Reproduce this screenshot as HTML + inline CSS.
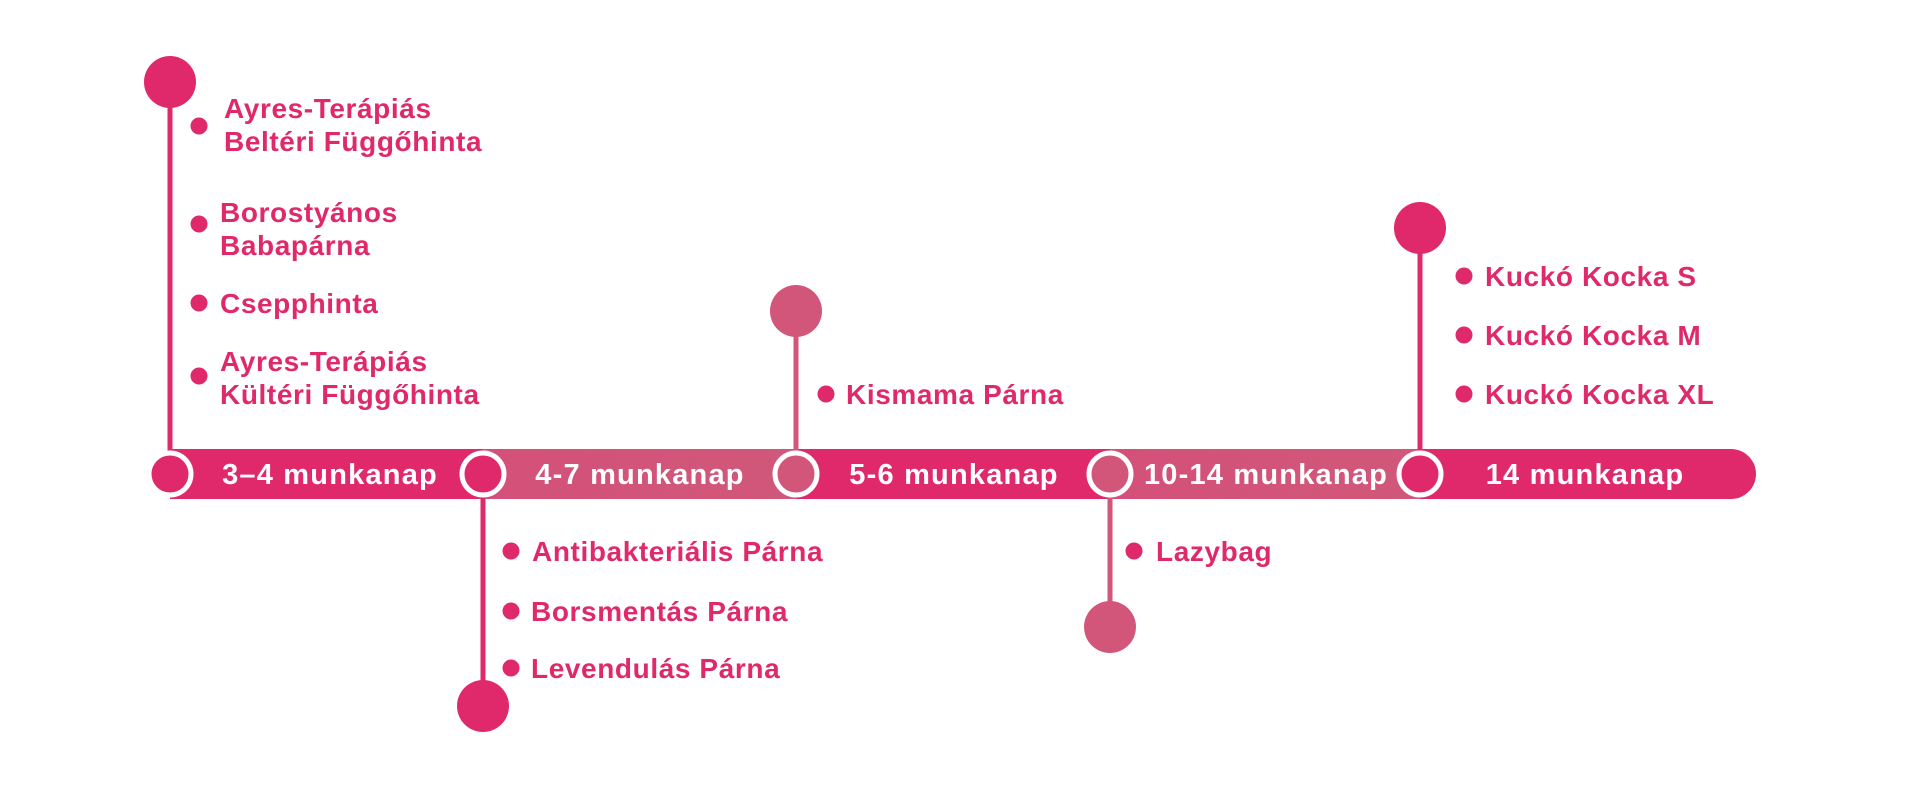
<!DOCTYPE html>
<html><head><meta charset="utf-8"><style>
html,body{margin:0;padding:0;background:#fff;}
svg{display:block;}
text{font-family:"Liberation Sans",sans-serif;font-weight:bold;}
.it{fill:#e0296a;font-size:28px;letter-spacing:0.6px;}
.bl{fill:#fff;font-size:29px;letter-spacing:1.2px;}
</style></head><body>
<svg width="1920" height="800" viewBox="0 0 1920 800">
<defs>
<linearGradient id="g1" x1="0" x2="1"><stop offset="0" stop-color="#d4507a"/><stop offset="1" stop-color="#d0587a"/></linearGradient>
</defs>
<rect x="170" y="449" width="1586" height="50" rx="25" fill="#e0296a"/>
<rect x="170" y="449" width="40" height="50" fill="#e0296a"/>
<rect x="483" y="449" width="313" height="50" fill="url(#g1)"/>
<rect x="1110" y="449" width="310" height="50" fill="url(#g1)"/>
<line x1="170" y1="82" x2="170" y2="474" stroke="#e0296a" stroke-width="5"/>
<line x1="483" y1="474" x2="483" y2="706" stroke="#e0296a" stroke-width="5"/>
<line x1="796" y1="311" x2="796" y2="474" stroke="#d2567a" stroke-width="5"/>
<line x1="1110" y1="474" x2="1110" y2="627" stroke="#d2567a" stroke-width="5"/>
<line x1="1420" y1="228" x2="1420" y2="474" stroke="#e0296a" stroke-width="5"/>
<circle cx="170" cy="82" r="26" fill="#e0296a"/>
<circle cx="483" cy="706" r="26" fill="#e0296a"/>
<circle cx="796" cy="311" r="26" fill="#d2567a"/>
<circle cx="1110" cy="627" r="26" fill="#d2567a"/>
<circle cx="1420" cy="228" r="26" fill="#e0296a"/>
<circle cx="170" cy="474" r="21" fill="#e0296a" stroke="#fff" stroke-width="5"/>
<circle cx="483" cy="474" r="21" fill="#e0296a" stroke="#fff" stroke-width="5"/>
<circle cx="796" cy="474" r="21" fill="#d2567a" stroke="#fff" stroke-width="5"/>
<circle cx="1110" cy="474" r="21" fill="#d2567a" stroke="#fff" stroke-width="5"/>
<circle cx="1420" cy="474" r="21" fill="#e0296a" stroke="#fff" stroke-width="5"/>
<g class="bl" text-anchor="middle">
<text x="330" y="484">3–4 munkanap</text>
<text x="640" y="484">4-7 munkanap</text>
<text x="954" y="484">5-6 munkanap</text>
<text x="1266" y="484">10-14 munkanap</text>
<text x="1585" y="484">14 munkanap</text>
</g>
<g fill="#e0296a">
<circle cx="199" cy="126" r="8.5"/><circle cx="199" cy="224" r="8.5"/><circle cx="199" cy="303" r="8.5"/><circle cx="199" cy="376" r="8.5"/>
<circle cx="511" cy="551" r="8.5"/><circle cx="511" cy="611" r="8.5"/><circle cx="511" cy="668" r="8.5"/>
<circle cx="826" cy="394" r="8.5"/>
<circle cx="1134" cy="551" r="8.5"/>
<circle cx="1464" cy="276" r="8.5"/><circle cx="1464" cy="335" r="8.5"/><circle cx="1464" cy="394" r="8.5"/>
</g>
<g class="it">
<text x="224" y="118">Ayres-Terápiás</text>
<text x="224" y="151">Beltéri Függőhinta</text>
<text x="220" y="222">Borostyános</text>
<text x="220" y="255">Babapárna</text>
<text x="220" y="313">Csepphinta</text>
<text x="220" y="371">Ayres-Terápiás</text>
<text x="220" y="404">Kültéri Függőhinta</text>
<text x="532" y="561">Antibakteriális Párna</text>
<text x="531" y="621">Borsmentás Párna</text>
<text x="531" y="678">Levendulás Párna</text>
<text x="846" y="404">Kismama Párna</text>
<text x="1156" y="561">Lazybag</text>
<text x="1485" y="286">Kuckó Kocka S</text>
<text x="1485" y="345">Kuckó Kocka M</text>
<text x="1485" y="404">Kuckó Kocka XL</text>
</g>
</svg>
</body></html>
